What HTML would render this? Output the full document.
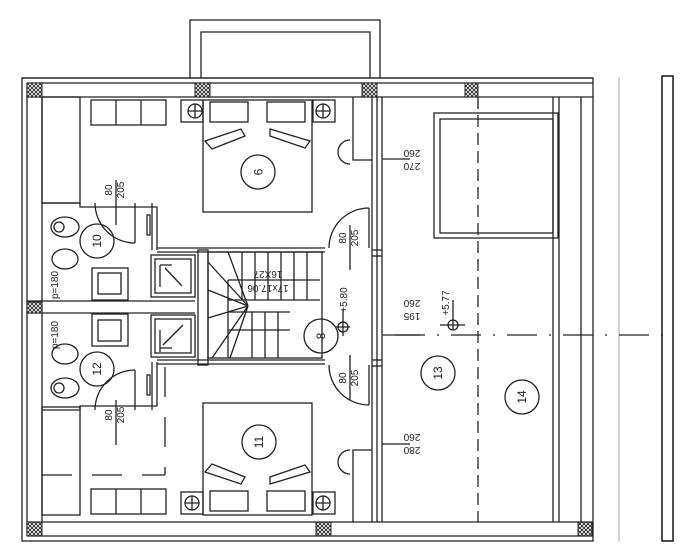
<!DOCTYPE html>
<html><head><meta charset="utf-8"><style>
html,body{margin:0;padding:0;background:#fff}
svg{display:block}
text{font-family:"Liberation Sans",sans-serif;fill:#222}
</style></head><body>
<svg width="700" height="559" viewBox="0 0 700 559" xmlns="http://www.w3.org/2000/svg">
<defs>
<pattern id="h" width="4" height="4" patternUnits="userSpaceOnUse">
<rect width="4" height="4" fill="#fff"/><path d="M0 0L4 4M4 0L0 4" stroke="#222" stroke-width="0.9"/>
</pattern>
</defs>
<g fill="none" stroke="#222" stroke-width="1.3">
<!-- balcony -->
<path d="M190 78V20H380V78"/>
<path d="M201 78V32H370V78"/>
<!-- outer -->
<rect x="22" y="78" width="571" height="463"/>
<path d="M22 78H593"/>
<line x1="27" y1="83" x2="593" y2="83"/>
<line x1="27" y1="97" x2="593" y2="97"/>
<line x1="27" y1="83" x2="27" y2="536"/>
<line x1="42" y1="97" x2="42" y2="522"/>
<line x1="27" y1="522" x2="593" y2="522"/>
<line x1="27" y1="536" x2="593" y2="536"/>
<line x1="619" y1="77" x2="619" y2="541" stroke="#aaa" stroke-width="1"/>
<rect x="662" y="76" width="11" height="465" stroke-width="1.6"/>
<!-- right inner lines -->
<line x1="553" y1="97" x2="553" y2="522"/>
<line x1="559" y1="97" x2="559" y2="522"/>
<line x1="581" y1="97" x2="581" y2="522"/>
<line x1="478" y1="97" x2="478" y2="522" stroke-dasharray="12,6"/>
<line x1="395" y1="335" x2="665" y2="335" stroke-dasharray="30,12,2,12"/>
<rect x="434" y="113" width="124" height="125"/>
<rect x="440" y="119" width="113" height="114"/>
<!-- corridor wall -->
<line x1="372" y1="97" x2="372" y2="522"/>
<line x1="377" y1="97" x2="377" y2="522"/>
<line x1="382" y1="97" x2="382" y2="522"/>
<line x1="372" y1="250" x2="382" y2="250"/><line x1="372" y1="256" x2="382" y2="256"/>
<line x1="372" y1="360" x2="382" y2="360"/><line x1="372" y1="366" x2="382" y2="366"/>
<line x1="382" y1="159" x2="410" y2="159"/>
<line x1="382" y1="335" x2="420" y2="335"/>
<line x1="382" y1="444" x2="410" y2="444"/>
<!-- wardrobes -->
<rect x="42" y="97" width="38" height="106"/>
<rect x="42" y="407" width="38" height="108"/>
<!-- bedroom 9 -->
<rect x="91" y="100" width="75" height="25"/><line x1="116" y1="100" x2="116" y2="125"/><line x1="141" y1="100" x2="141" y2="125"/>
<rect x="181" y="100" width="22" height="22"/><circle cx="195" cy="111" r="7"/><path d="M188 111h14M195 104v14"/>
<rect x="313" y="100" width="22" height="22"/><circle cx="323" cy="111" r="7"/><path d="M316 111h14M323 104v14"/>
<rect x="203" y="100" width="109" height="112"/>
<rect x="210" y="102" width="38" height="20"/><rect x="267" y="102" width="38" height="20"/>
<path d="M205 141L241 129L245 136L212 149Z"/><path d="M270 129L310 141L305 148L270 136Z"/>
<path d="M353 97V160H372"/>
<path d="M350 140a8 8 0 1 0 0 24M350 140a12 12 0 0 0 0 24"/>
<!-- baths -->
<path d="M42 203H80V207H157V250"/><line x1="152" y1="203" x2="152" y2="250"/>
<path d="M95 203A40 40 0 0 0 135 243"/><line x1="135" y1="203" x2="135" y2="243"/>
<rect x="147" y="215" width="3" height="20"/>
<line x1="27" y1="301" x2="195" y2="301"/><line x1="27" y1="313" x2="195" y2="313"/>
<ellipse cx="65" cy="227" rx="14" ry="10"/><ellipse cx="59" cy="227" rx="5" ry="5"/>
<ellipse cx="65" cy="259" rx="13" ry="10"/>
<ellipse cx="65" cy="354" rx="13" ry="10"/>
<ellipse cx="65" cy="388" rx="14" ry="10"/><ellipse cx="59" cy="388" rx="5" ry="5"/>
<rect x="92" y="268" width="36" height="32"/><rect x="98" y="273" width="23" height="21"/>
<rect x="92" y="314" width="36" height="32"/><rect x="98" y="320" width="23" height="21"/>
<path d="M42 410H80V406H157V362"/><line x1="152" y1="362" x2="152" y2="410"/>
<path d="M95 410A40 40 0 0 1 135 370"/><line x1="135" y1="370" x2="135" y2="410"/>
<rect x="147" y="375" width="3" height="20"/>
<!-- showers -->
<rect x="151" y="255" width="44" height="42"/><rect x="155" y="259" width="36" height="34"/><path d="M160 265v22M160 265h12M165 268l17 18"/>
<rect x="151" y="315" width="44" height="42"/><rect x="155" y="319" width="36" height="34"/><path d="M160 330v22M160 348h12M163 345l20-20"/>
<!-- stair -->
<line x1="157" y1="248" x2="325" y2="248"/><line x1="157" y1="252" x2="325" y2="252"/>
<line x1="157" y1="360" x2="325" y2="360"/><line x1="157" y1="364" x2="325" y2="364"/>
<rect x="198" y="250" width="10" height="115"/>
<rect x="208" y="252" width="114" height="106"/>
<path d="M228 280H320M228 300H320M228 312H290M228 330H290M228 280V358"/>
<path d="M242 252V300M255 252V300M268 252V300M281 252V300M294 252V300M307 252V300"/>
<path d="M252 312V358M265 312V358M278 312V358"/>
<path d="M208 262L248 306M208 290L248 306M208 318L248 306M212 358L248 306M230 358L248 306M248 306L228 252"/>
<circle cx="321" cy="336" r="17"/>
<circle cx="343" cy="327" r="5"/><path d="M336 327h14M343 310v26"/>
<path d="M369 208A40 40 0 0 0 329 248M369 208V248"/>
<path d="M369 405A40 40 0 0 1 329 365M369 365V405"/>
<circle cx="453" cy="325" r="5"/><path d="M440 325h25M453 300v30"/>
<!-- bedroom 11 -->
<rect x="203" y="403" width="109" height="112"/>
<rect x="210" y="491" width="38" height="20"/><rect x="267" y="491" width="38" height="20"/>
<path d="M205 472L241 484L245 477L212 464Z"/><path d="M270 484L310 472L305 465L270 477Z"/>
<rect x="181" y="492" width="22" height="22"/><circle cx="192" cy="503" r="7"/><path d="M185 503h14M192 496v14"/>
<rect x="313" y="492" width="22" height="22"/><circle cx="323" cy="503" r="7"/><path d="M316 503h14M323 496v14"/>
<rect x="91" y="489" width="75" height="25"/><line x1="116" y1="489" x2="116" y2="514"/><line x1="141" y1="489" x2="141" y2="514"/>
<path d="M353 522V450H372"/>
<path d="M350 450a8 8 0 1 0 0 24M350 450a12 12 0 0 0 0 24"/>
<line x1="165" y1="367" x2="165" y2="475" stroke-dasharray="30,20"/>
<line x1="42" y1="475" x2="165" y2="475" stroke-dasharray="30,20"/>
<!-- circles -->
<circle cx="258" cy="172" r="17"/><circle cx="97" cy="241" r="17"/><circle cx="97" cy="369" r="17"/>
<circle cx="259" cy="442" r="17"/><circle cx="438" cy="373" r="17"/><circle cx="522" cy="397" r="17"/>
<line x1="116" y1="180" x2="116" y2="225"/><line x1="116" y1="400" x2="116" y2="445"/>
<line x1="350" y1="225" x2="350" y2="270"/><line x1="350" y1="355" x2="350" y2="400"/>
</g>
<g fill="url(#h)" stroke="#222" stroke-width="1">
<rect x="27" y="83" width="15" height="14"/><rect x="195" y="83" width="15" height="14"/>
<rect x="362" y="83" width="15" height="14"/><rect x="465" y="83" width="13" height="14"/>
<rect x="27" y="302" width="15" height="11"/><rect x="27" y="522" width="15" height="14"/>
<rect x="316" y="522" width="15" height="14"/><rect x="578" y="522" width="14" height="14"/>
</g>
<g font-size="12" text-anchor="middle">
<text transform="translate(258,172) rotate(90)" dy="4">9</text>
<text transform="translate(97,241) rotate(-90)" dy="4">10</text>
<text transform="translate(97,369) rotate(-90)" dy="4">12</text>
<text transform="translate(321,336) rotate(-90)" dy="4">8</text>
<text transform="translate(259,442) rotate(-90)" dy="4">11</text>
<text transform="translate(438,373) rotate(-90)" dy="4">13</text>
<text transform="translate(522,397) rotate(-90)" dy="4">14</text>
</g>
<g font-size="10" text-anchor="middle">
<text transform="translate(112,190) rotate(-90)">80</text><text transform="translate(124,190) rotate(-90)">205</text>
<text transform="translate(112,415) rotate(-90)">80</text><text transform="translate(124,415) rotate(-90)">205</text>
<text transform="translate(346,238) rotate(-90)">80</text><text transform="translate(358,238) rotate(-90)">205</text>
<text transform="translate(346,378) rotate(-90)">80</text><text transform="translate(358,378) rotate(-90)">205</text>
<text transform="translate(347,300) rotate(-90)">+5.80</text>
<text transform="translate(449,303) rotate(-90)">+5.77</text>
<text transform="translate(58,285) rotate(-90)">p=180</text>
<text transform="translate(58,335) rotate(-90)">p=180</text>
<text transform="translate(412,150) rotate(180)">260</text><text transform="translate(412,163) rotate(180)">270</text>
<text transform="translate(412,300) rotate(180)">260</text><text transform="translate(412,313) rotate(180)">195</text>
<text transform="translate(412,434) rotate(180)">260</text><text transform="translate(412,447) rotate(180)">280</text>
<text transform="translate(268,271) rotate(180)">16X27</text>
<text transform="translate(268,285) rotate(180)">17x17.06</text>
</g>
</svg>
</body></html>
